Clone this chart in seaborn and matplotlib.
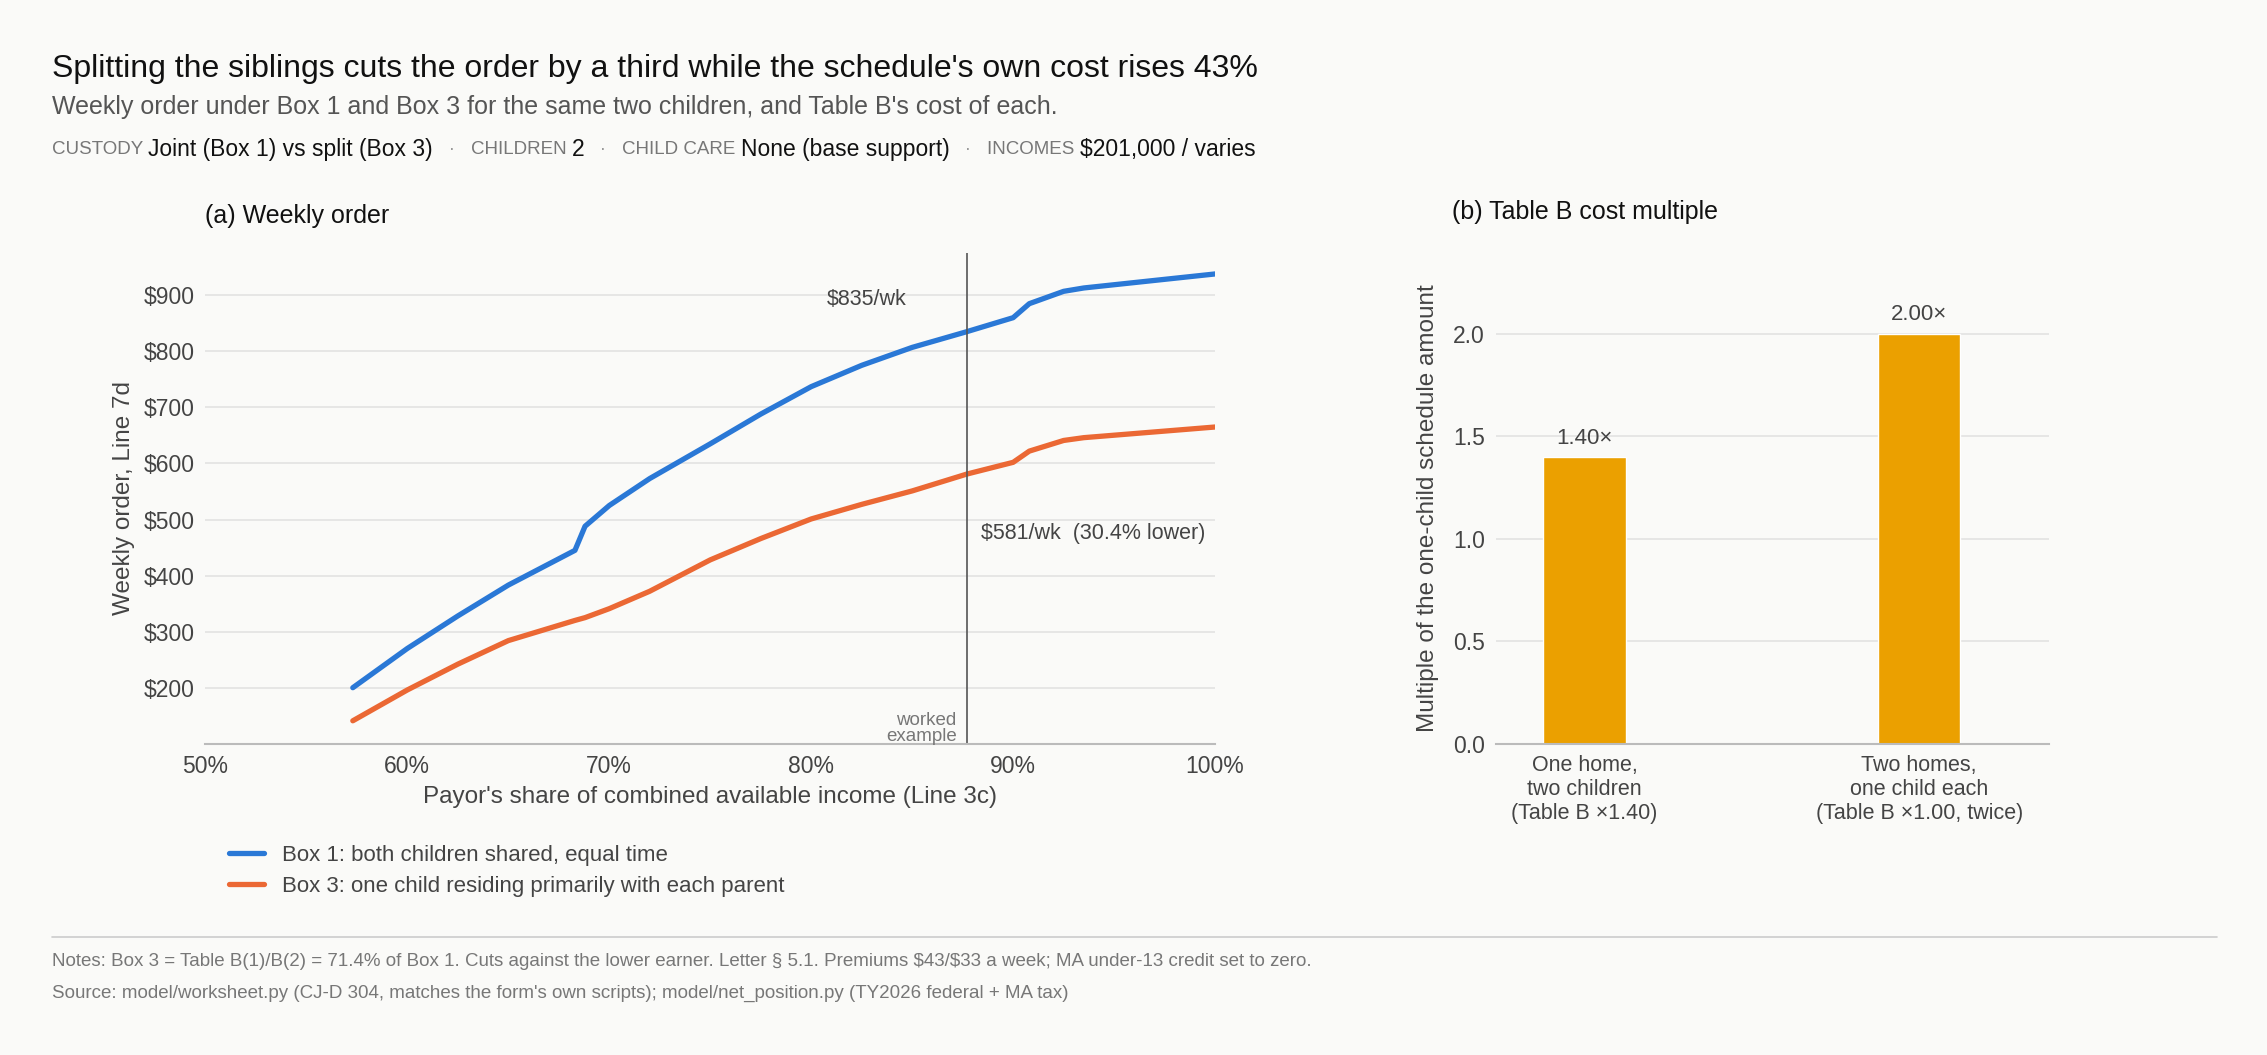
import matplotlib
matplotlib.use("Agg")
import matplotlib.pyplot as plt
import seaborn as sns
import pandas as pd
from matplotlib.lines import Line2D

sns.set_style("white")
plt.rcParams['font.family'] = ['Liberation Sans', 'DejaVu Sans']

share = [57.3, 60, 62.5, 65, 68.3, 68.8, 70, 72, 75, 77.5, 80, 82.5, 85, 87.7, 90, 90.8, 92.5, 93.5, 100]
box1 = [200, 270, 328, 383, 445, 488, 525, 573, 635, 688, 737, 775, 807, 835, 860, 885, 907, 913, 938]
box3 = [141, 196, 242, 284, 320, 325, 341, 372, 428, 466, 501, 527, 551, 581, 602, 622, 641, 646, 665]
bar_labels = ["One home,\ntwo children\n(Table B ×1.40)", "Two homes,\none child each\n(Table B ×1.00, twice)"]
bar_values = [1.40, 2.00]
bar_text = ["1.40×", "2.00×"]
yticks_left = [200, 300, 400, 500, 600, 700, 800, 900]
xticks_left = [50, 60, 70, 80, 90, 100]

BG = "#fafaf8"
BLUE = "#2a78d6"
ORANGE = "#eb6834"
GOLD = "#eba000"
GRID = "#e2e2e2"
TXT = "#444444"

fig = plt.figure(figsize=(22.67, 10.55), dpi=100, facecolor=BG)
axL = fig.add_axes([0.0906, 0.295, 0.4454, 0.465])
axR = fig.add_axes([0.660, 0.295, 0.244, 0.447])
for ax in (axL, axR):
    ax.set_facecolor(BG)
    for s in ["top", "right", "left"]:
        ax.spines[s].set_visible(False)
    ax.spines["bottom"].set_color("#bbbbbb")
    ax.spines["bottom"].set_linewidth(1.5)
    ax.grid(axis="y", color=GRID, linewidth=1.2)
    ax.set_axisbelow(True)
    ax.tick_params(axis="both", length=0, labelsize=16.5, colors=TXT, pad=8)

df = pd.DataFrame({"share": share * 2, "value": box1 + box3,
                   "series": ["Box 1"] * len(share) + ["Box 3"] * len(share)})
sns.lineplot(data=df, x="share", y="value", hue="series", palette=[BLUE, ORANGE],
             linewidth=3.8, ax=axL, legend=False)
axL.set_xlim(50, 100)
axL.set_ylim(100, 975)
axL.set_xticks(xticks_left)
axL.set_xticklabels([f"{v}%" for v in xticks_left])
axL.set_yticks(yticks_left)
axL.set_yticklabels([f"${v}" for v in yticks_left])
axL.set_xlabel("Payor's share of combined available income (Line 3c)", fontsize=17.5, color=TXT, labelpad=6)
axL.set_ylabel("Weekly order, Line 7d", fontsize=17.5, color=TXT, labelpad=6)
axL.axvline(87.7, color="#555555", linewidth=1.2)
axL.text(87.7 - 3.0, 893, "$835/wk", fontsize=15.5, color=TXT, ha="right", va="center")
axL.text(87.7 + 0.7, 475, "$581/wk  (30.4% lower)", fontsize=15.5, color=TXT, ha="left", va="center")
axL.text(87.7 - 0.5, 97, "worked\nexample", fontsize=13.5, color="#777777", ha="right", va="bottom", linespacing=0.95)
axL.set_title("(a) Weekly order", fontsize=18, loc="left", x=0.0, pad=22, color="#111111")

bdf = pd.DataFrame({"label": bar_labels, "value": bar_values})
sns.barplot(data=bdf, x="label", y="value", color=GOLD, width=0.246, ax=axR, saturation=1)
axR.set_xlim(-0.264, 1.389)
axR.set_ylim(0, 2.3)
axR.set_yticks([0, 0.5, 1.0, 1.5, 2.0])
axR.set_yticklabels(["0.0", "0.5", "1.0", "1.5", "2.0"])
axR.set_xlabel("")
axR.set_ylabel("Multiple of the one-child schedule amount", fontsize=17.5, color=TXT, labelpad=10)
axR.tick_params(axis="x", labelsize=15.5)
for i, (v, t) in enumerate(zip(bar_values, bar_text)):
    axR.text(i, v + 0.04, t, ha="center", va="bottom", fontsize=16, color=TXT)
axR.set_title("(b) Table B cost multiple", fontsize=18, loc="left", x=-0.08, pad=38, color="#111111")

fig.text(0.023, 0.935, "Splitting the siblings cuts the order by a third while the schedule's own cost rises 43%",
         fontsize=23, color="#111111", va="center")
fig.text(0.023, 0.899, "Weekly order under Box 1 and Box 3 for the same two children, and Table B's cost of each.",
         fontsize=18, color="#555555", va="center")
parts = [("CUSTODY ", "#777777", 13.5), ("Joint (Box 1) vs split (Box 3)", "#111111", 16.5), ("   ·   ", "#999999", 13.5),
         ("CHILDREN ", "#777777", 13.5), ("2", "#111111", 16.5), ("   ·   ", "#999999", 13.5),
         ("CHILD CARE ", "#777777", 13.5), ("None (base support)", "#111111", 16.5), ("   ·   ", "#999999", 13.5),
         ("INCOMES ", "#777777", 13.5), ("$201,000 / varies", "#111111", 16.5)]
fig.canvas.draw()
r = fig.canvas.get_renderer()
x = 0.023
for s, c, fs in parts:
    t = fig.text(x, 0.858, s, fontsize=fs, color=c, va="center")
    bb = t.get_window_extent(renderer=r)
    x += bb.width / fig.bbox.width

handles = [Line2D([0], [0], color=BLUE, lw=3.8), Line2D([0], [0], color=ORANGE, lw=3.8)]
fig.legend(handles, ["Box 1: both children shared, equal time",
                     "Box 3: one child residing primarily with each parent"],
           loc="upper left", bbox_to_anchor=(0.092, 0.218), frameon=False, fontsize=16,
           handlelength=1.6, labelspacing=0.45, labelcolor=TXT)

fig.add_artist(Line2D([0.023, 0.978], [0.112, 0.112], color="#cccccc", lw=1.2))
fig.text(0.023, 0.089, r"Notes: Box 3 = Table B(1)/B(2) = 71.4% of Box 1. Cuts against the lower earner. Letter § 5.1. Premiums \$43/\$33 a week; MA under-13 credit set to zero.",
         fontsize=13.5, color="#777777", va="center")
fig.text(0.023, 0.058, "Source: model/worksheet.py (CJ-D 304, matches the form's own scripts); model/net_position.py (TY2026 federal + MA tax)",
         fontsize=13.5, color="#777777", va="center")

fig.savefig("out.png", dpi=100, facecolor=BG)
